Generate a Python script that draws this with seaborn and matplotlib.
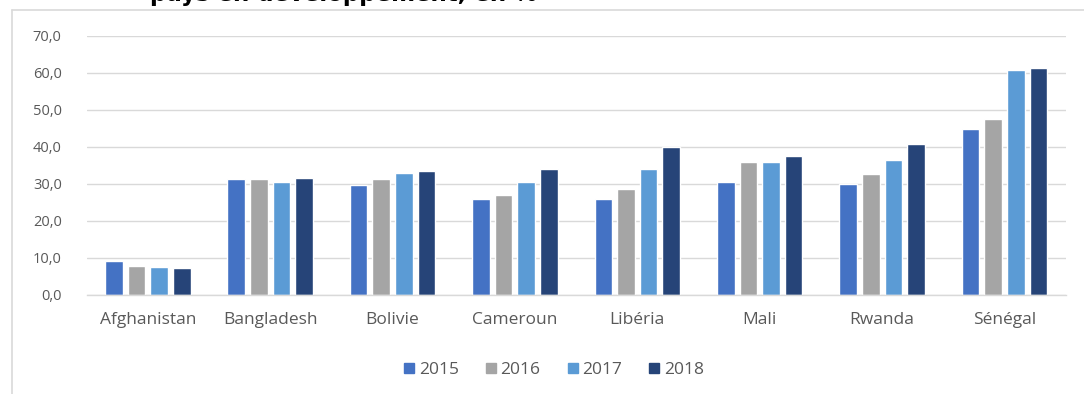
import matplotlib
matplotlib.use("Agg")
import matplotlib.pyplot as plt
from matplotlib.lines import Line2D
import seaborn as sns
import pandas as pd

countries = ["Afghanistan", "Bangladesh", "Bolivie", "Cameroun", "Libéria",
             "Mali", "Rwanda", "Sénégal"]
years = ["2015", "2016", "2017", "2018"]
v2015 = [9.2, 31.2, 29.6, 26.0, 26.0, 30.6, 30.0, 44.7]
v2016 = [7.9, 31.2, 31.2, 27.0, 28.5, 36.0, 32.7, 47.5]
v2017 = [7.5, 30.5, 32.8, 30.6, 33.9, 36.0, 36.4, 60.7]
v2018 = [7.2, 31.6, 33.5, 33.9, 40.0, 37.5, 40.7, 61.2]
yticks = [0, 10, 20, 30, 40, 50, 60, 70]
title = "pays en développement, en %"

colors = ["#4472C4", "#A5A5A5", "#5B9BD5", "#264478"]

df = pd.DataFrame({
    "pays": countries * 4,
    "année": sum([[y] * len(countries) for y in years], []),
    "valeur": v2015 + v2016 + v2017 + v2018,
})

sns.set_theme(style="white")
plt.rcParams["font.family"] = ["Open Sans", "DejaVu Sans"]

fig = plt.figure(figsize=(10.84, 3.94), dpi=100)
ax = fig.add_axes([0.080, 0.2513, 0.903, 0.6581])

sns.barplot(data=df, x="pays", y="valeur", hue="année", order=countries,
            hue_order=years, palette=colors, width=0.74, gap=0.22,
            saturation=1, ax=ax, legend=False)

ax.set_ylim(0, 70)
ax.set_xlim(-0.5, len(countries) - 0.5)
ax.set_yticks(yticks)
ax.set_yticklabels([f"{t:.1f}".replace(".", ",") for t in yticks])
ax.grid(axis="y", color="#D9D9D9", linewidth=1)
ax.set_axisbelow(True)
for side in ["top", "right", "left"]:
    ax.spines[side].set_visible(False)
ax.spines["bottom"].set_color("#D9D9D9")
ax.spines["bottom"].set_linewidth(1)
ax.set_xlabel("")
ax.set_ylabel("")
ax.tick_params(axis="y", length=0, pad=18, labelsize=10.5, labelcolor="#595959")
ax.tick_params(axis="x", length=0, pad=12, labelsize=12.5, labelcolor="#595959")

handles = [Line2D([], [], marker="s", linestyle="", markersize=7,
                  markerfacecolor=c, markeredgecolor=c) for c in colors]
fig.legend(handles, years, loc="center", bbox_to_anchor=(0.511, 0.062),
           ncol=4, frameon=False, handlelength=0.6, handletextpad=0.25,
           columnspacing=1.55, fontsize=12.5, labelcolor="#595959")

# outer chart frame: left and top edges
frame_x = 12 / 1084
frame_top = 1 - 10 / 394
fig.add_artist(Line2D([frame_x, frame_x], [0, frame_top], transform=fig.transFigure,
                      color="#D9D9D9", linewidth=1.2))
fig.add_artist(Line2D([frame_x, 1], [frame_top, frame_top], transform=fig.transFigure,
                      color="#D9D9D9", linewidth=1.2))

fig.text(150 / 1084, 1 - 1 / 394, title, fontsize=16.5, fontweight="bold",
         family=["DejaVu Sans"], color="black", va="baseline", ha="left")

fig.savefig("out.png", dpi=100)
